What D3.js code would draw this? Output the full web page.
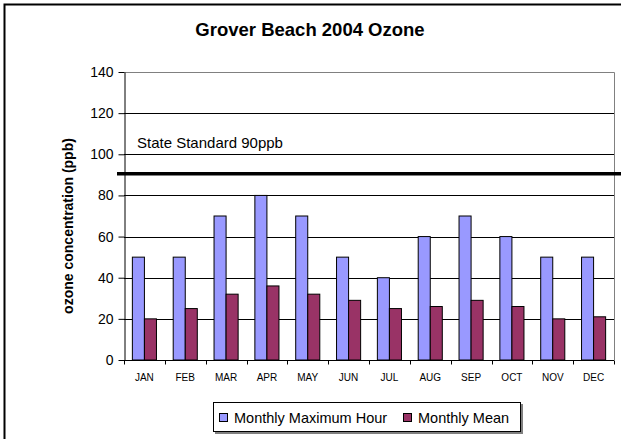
<!DOCTYPE html>
<html>
<head>
<meta charset="utf-8">
<script src="https://cdn.jsdelivr.net/npm/d3@7"></script>
<style>
  body { margin: 0; background: #fff; }
  svg { font-family: Arial, "Liberation Sans", sans-serif; }
</style>
</head>
<body>
<div id="chart"></div>
<script>
var months = ["JAN","FEB","MAR","APR","MAY","JUN","JUL","AUG","SEP","OCT","NOV","DEC"];
var maxHour = [50,50,70,80,70,50,40,60,70,60,50,50];
var monthlyMean = [20,25,32,36,32,29,25,26,29,26,20,21];
var yTicks = [0,20,40,60,80,100,120,140];
var seriesNames = ["Monthly Maximum Hour","Monthly Mean"];
var seriesColors = ["#9999ff","#993366"];
var standard = 90;
var standardLabel = "State Standard 90ppb";

var width = 621, height = 439,
    margin = { top: 72, right: 7, bottom: 79, left: 124 },
    plotW = width - margin.left - margin.right,
    plotH = height - margin.top - margin.bottom;

var svg = d3.select("#chart").append("svg")
  .attr("width", width)
  .attr("height", height);

// outer chart frame
svg.append("rect")
  .attr("x", 4.5).attr("y", 4.5)
  .attr("width", width + 10).attr("height", height + 10)
  .attr("fill", "#fff").attr("stroke", "#000").attr("stroke-width", 2);

svg.append("text")
  .attr("x", 310).attr("y", 36)
  .attr("text-anchor", "middle")
  .style("font-size", "18.5px").style("font-weight", "bold")
  .text("Grover Beach 2004 Ozone");

var g = svg.append("g")
  .attr("transform", "translate(" + margin.left + "," + margin.top + ")");

var y = d3.scaleLinear().domain([0, 140]).range([plotH, 0]);
var x0 = d3.scaleBand().domain(months).range([0, plotW]).paddingInner(0.41).paddingOuter(0.205);
var x1 = d3.scaleBand().domain([0, 1]).range([0, x0.bandwidth()]);

// gridlines
g.selectAll(".grid").data(yTicks.filter(function(d){ return d > 0 && d < 140; }))
  .enter().append("line")
  .attr("x1", 0).attr("x2", plotW)
  .attr("y1", function(d){ return Math.round(y(d)) + 0.5; })
  .attr("y2", function(d){ return Math.round(y(d)) + 0.5; })
  .attr("stroke", "#000").attr("stroke-width", 1);

// plot border top/right
g.append("path")
  .attr("d", "M0.5,0.5H" + (plotW + 0.5) + "V" + plotH)
  .attr("fill", "none").attr("stroke", "#808080").attr("stroke-width", 1);

// bars
var groups = g.selectAll(".month").data(months)
  .enter().append("g")
  .attr("transform", function(d){ return "translate(" + x0(d) + ",0)"; });

groups.selectAll("rect")
  .data(function(d, i){ return [maxHour[i], monthlyMean[i]]; })
  .enter().append("rect")
  .attr("x", function(d, j){ return x1(j); })
  .attr("y", function(d){ return y(d); })
  .attr("width", x1.bandwidth())
  .attr("height", function(d){ return plotH - y(d); })
  .attr("fill", function(d, j){ return seriesColors[j]; })
  .attr("stroke", "#000").attr("stroke-width", 1);

// axes
var yAxis = d3.axisLeft(y).tickValues(yTicks).tickSize(6).tickSizeOuter(0);
var ya = g.append("g").attr("transform", "translate(0.5,0)").call(yAxis);
ya.select(".domain").attr("stroke", "#000");
ya.selectAll("text").style("font-size", "14px").attr("x", -11).attr("fill", "#000");

var xb = g.append("g").attr("transform", "translate(0," + (plotH + 0.5) + ")");
xb.append("line").attr("x1", 0).attr("x2", plotW).attr("stroke", "#000");
xb.selectAll(".tk").data(d3.range(months.length + 1))
  .enter().append("line")
  .attr("x1", function(i){ return Math.round(i * plotW / months.length) + 0.5; })
  .attr("x2", function(i){ return Math.round(i * plotW / months.length) + 0.5; })
  .attr("y1", 0).attr("y2", 4).attr("stroke", "#000");
xb.selectAll(".lbl").data(months)
  .enter().append("text")
  .attr("x", function(d){ return x0(d) + x0.bandwidth() / 2; })
  .attr("y", 20)
  .attr("text-anchor", "middle")
  .style("font-size", "10px")
  .text(function(d){ return d; });

// standard line
svg.append("line")
  .attr("x1", 117).attr("x2", width)
  .attr("y1", margin.top + y(standard) - 1).attr("y2", margin.top + y(standard) - 1)
  .attr("stroke", "#000").attr("stroke-width", 3.5);
svg.append("text")
  .attr("x", 137).attr("y", 148)
  .style("font-size", "15px")
  .text(standardLabel);

// y title
svg.append("text")
  .attr("transform", "translate(73,226) rotate(-90)")
  .attr("text-anchor", "middle")
  .style("font-size", "14px").style("font-weight", "bold")
  .text("ozone concentration (ppb)");

// legend
var lg = svg.append("g").attr("transform", "translate(213,402)");
lg.append("rect").attr("x", 2).attr("y", 2).attr("width", 308).attr("height", 30).attr("fill", "#808080");
lg.append("rect").attr("x", 0.5).attr("y", 0.5).attr("width", 307).attr("height", 29)
  .attr("fill", "#fff").attr("stroke", "#000");
var items = lg.selectAll(".item").data(seriesNames).enter().append("g")
  .attr("transform", function(d, i){ return "translate(" + (i === 0 ? 6 : 190) + ",0)"; });
items.append("rect").attr("x", 0.5).attr("y", 11.5).attr("width", 8).attr("height", 8)
  .attr("fill", function(d, i){ return seriesColors[i]; }).attr("stroke", "#000");
items.append("text").attr("x", 15).attr("y", 20.5)
  .style("font-size", "14.5px").text(function(d){ return d; });
</script>
</body>
</html>
